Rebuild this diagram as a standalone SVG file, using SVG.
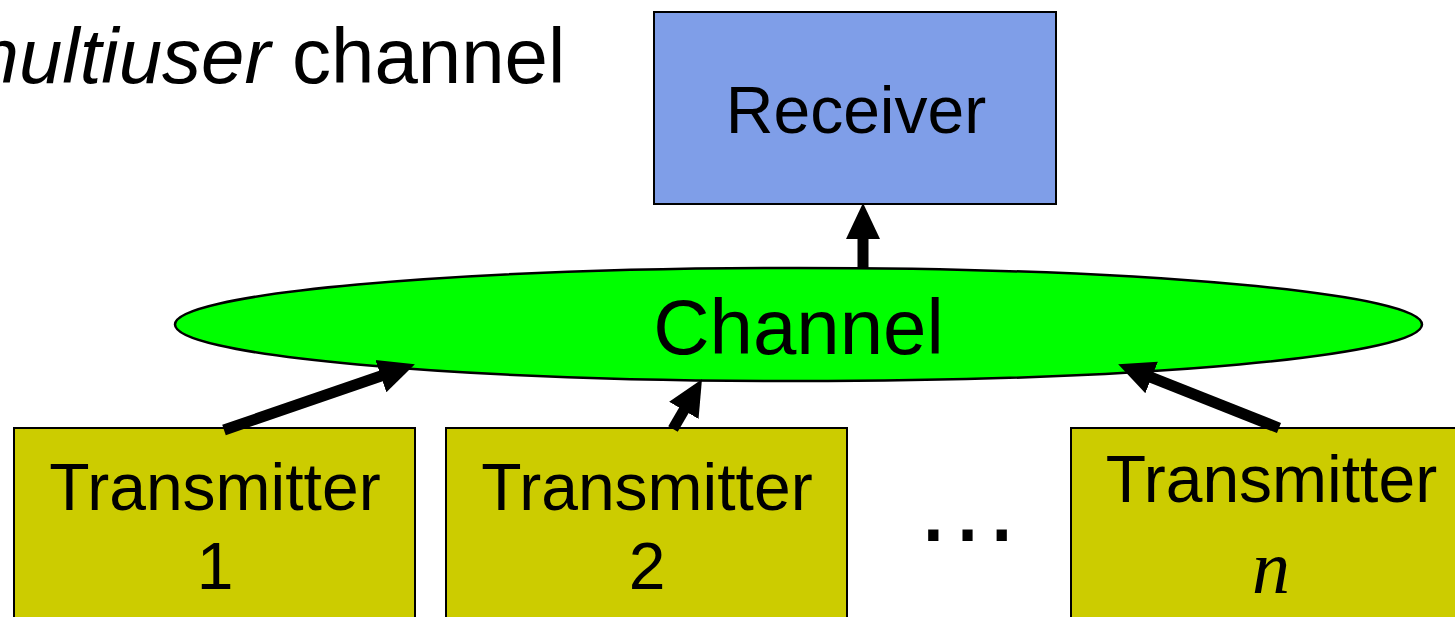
<svg xmlns="http://www.w3.org/2000/svg" width="1455" height="617" viewBox="0 0 1455 617">
  <style>
    .lbl { font-family: "Liberation Sans", Arial, sans-serif; fill: #000; }
    .box { stroke: #000; stroke-width: 2; }
    .tx { fill: #CCCC00; }
    .arrow { stroke: #000; stroke-width: 11; fill: none; marker-end: url(#head); }
  </style>
  <defs>
    <marker id="head" markerUnits="userSpaceOnUse" markerWidth="36" markerHeight="36" refX="14" refY="17" orient="auto" viewBox="0 0 36 34">
      <path d="M0,0 L36,17 L0,34 z" fill="#000"/>
    </marker>
  </defs>

  <rect width="1455" height="617" fill="#fff"/>

  <!-- title, running off the left edge -->
  <text class="lbl" x="-46" y="83" font-size="78"><tspan font-style="italic">multiuser</tspan> channel</text>

  <g id="receiver">
    <rect class="box" x="654" y="12" width="402" height="192" fill="#7F9EE8"/>
    <text class="lbl" x="856" y="133" font-size="66" text-anchor="middle">Receiver</text>
  </g>

  <g id="channel">
    <ellipse cx="798.5" cy="324.5" rx="623.5" ry="56.5" fill="#00FF00" stroke="#000" stroke-width="2.5"/>
    <text class="lbl" x="798.5" y="354" font-size="78" text-anchor="middle">Channel</text>
  </g>

  <g id="transmitter-1">
    <rect class="box tx" x="14" y="428" width="401" height="200"/>
    <text class="lbl" x="215" y="510" font-size="66" text-anchor="middle">Transmitter</text>
    <text class="lbl" x="215" y="589" font-size="66" text-anchor="middle">1</text>
  </g>

  <g id="transmitter-2">
    <rect class="box tx" x="446" y="428" width="401" height="200"/>
    <text class="lbl" x="647" y="510" font-size="66" text-anchor="middle">Transmitter</text>
    <text class="lbl" x="647" y="589" font-size="66" text-anchor="middle">2</text>
  </g>

  <g id="ellipsis">
    <text class="lbl" x="967.5" y="541" font-size="108" text-anchor="middle">…</text>
  </g>

  <g id="transmitter-n">
    <rect class="box tx" x="1071" y="428" width="401" height="200"/>
    <text class="lbl" x="1271.5" y="502" font-size="66" text-anchor="middle">Transmitter</text>
    <text x="1271" y="593" font-size="76" font-style="italic" text-anchor="middle" font-family="'Liberation Serif', 'Times New Roman', serif">n</text>
  </g>

  <g id="connectors">
    <line class="arrow" x1="224" y1="430" x2="394.1" y2="371.5"/>
    <line class="arrow" x1="673" y1="429" x2="690.9" y2="398.3"/>
    <line class="arrow" x1="1279" y1="428" x2="1138.6" y2="372.4"/>
    <line class="arrow" x1="863" y1="268" x2="863" y2="225" stroke-width="12"/>
  </g>
</svg>
